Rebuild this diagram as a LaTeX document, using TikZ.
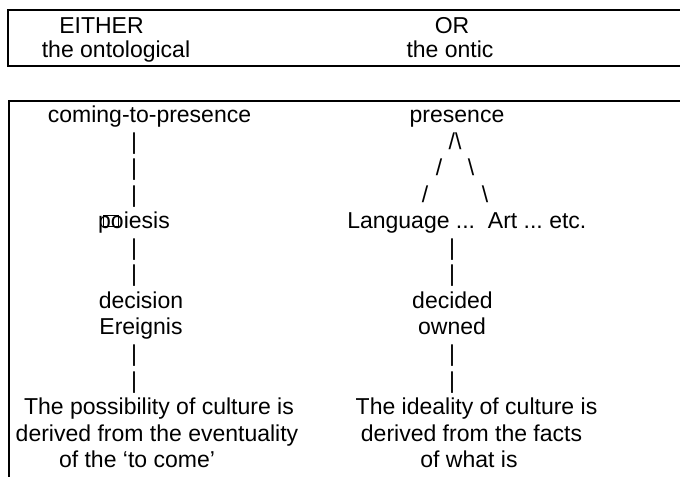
\documentclass[tikz,border=0pt]{standalone}
\usepackage{fontspec}
\setmainfont{Liberation Sans}
\usetikzlibrary{calc}
\begin{document}
\frenchspacing
\begin{tikzpicture}[x=0.75pt,y=-0.75pt,
  txt/.style={anchor=base,inner sep=0pt,font=\fontsize{17.25}{20}\selectfont},
  frame/.style={line width=1.5pt,line cap=rect},
  heavy/.style={line width=2pt}]
\useasboundingbox (0,0) rectangle (680,476);
% top box
\draw[frame] (700,10) -- (8,10);
\draw[heavy] (8,10) -- (8,66) -- (700,66);
\node[txt] (either) at (101.5,33) {EITHER};
\node[txt] (ontological) at (116,57) {the ontological};
\node[txt] (or) at (452,33) {OR};
\node[txt] (ontic) at (450,57) {the ontic};
% lower box
\draw[frame] (700,100.5) -- (9,100.5) -- (9,500);
% left column
\node[txt] (coming) at (149.5,122.5) {coming-to-presence};
\node[txt] (lb1) at (134,149.05) {|};
\node[txt] (lb2) at (134,175.6) {|};
\node[txt] (lb3) at (134,202.15) {|};
\node[txt] (poi) at (134,228.7) {poiesis};
\draw[line width=0.5pt] ($(poi.base west)+(5,-2)$) rectangle ($(poi.base west)+(20,-13)$);
\node[txt] (lb4) at (134,255.25) {|};
\node[txt] (lb5) at (134,281.8) {|};
\node[txt] (decision) at (141,308.35) {decision};
\node[txt] (ereignis) at (141,334.9) {Ereignis};
\node[txt] (lb6) at (134,361.45) {|};
\node[txt] (lb7) at (134,388) {|};
\node[txt] (poss1) at (159,414.55) {The possibility of culture is};
\node[txt] (poss2) at (157,441.1) {derived from the eventuality};
\node[txt] (poss3) at (137,467.65) {of the ‘to come’};
% right column
\node[txt] (presence) at (457,122.5) {presence};
\node[txt] (peak) at (455,149.05) {/\textbackslash};
\node[txt] (sl1) at (439,175.6) {/};
\node[txt] (bs1) at (471,175.6) {\textbackslash};
\node[txt] (sl2) at (425,202.15) {/};
\node[txt] (bs2) at (485,202.15) {\textbackslash};
\node[txt,anchor=base west] (lang) at (347,228.7) {Language ...\ \ Art ... etc.};
\node[txt] (rb1) at (452,255.25) {|};
\node[txt] (rb2) at (452,281.8) {|};
\node[txt] (decided) at (452.5,308.35) {decided};
\node[txt] (owned) at (452,334.9) {owned};
\node[txt] (rb3) at (452,361.45) {|};
\node[txt] (rb4) at (452,388) {|};
\node[txt] (ideal1) at (476.5,414.55) {The ideality of culture is};
\node[txt] (ideal2) at (471.5,441.1) {derived from the facts};
\node[txt] (ideal3) at (469,467.65) {of what is};
\end{tikzpicture}
\end{document}
